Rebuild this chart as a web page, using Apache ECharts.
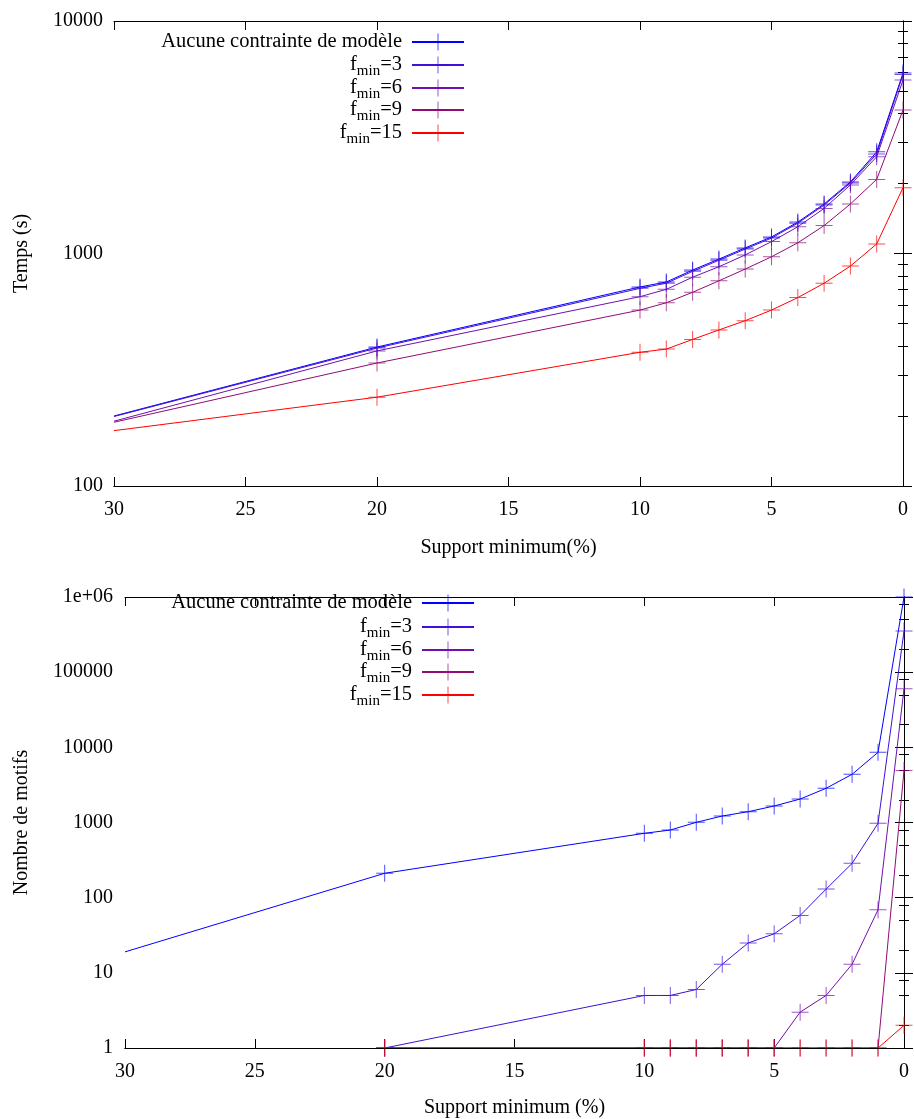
<!DOCTYPE html>
<html><head><meta charset="utf-8">
<script src="https://cdn.jsdelivr.net/npm/echarts@6/dist/echarts.min.js"></script>
<style>html,body{margin:0;padding:0;background:#fff}#c{width:914px;height:1119px}</style>
</head><body><div id="c"></div>
<script>
// ---------- data ----------
const seriesNames = ['Aucune contrainte de modèle', 'f_min=3', 'f_min=6', 'f_min=9', 'f_min=15'];
const seriesColors = ['#0000ff', '#4010d8', '#7010b0', '#900c78', '#ff0000'];
const xSupport = [30, 20, 10, 9, 8, 7, 6, 5, 4, 3, 2, 1, 0];

// Top chart: Temps (s)
const timeAucune = [200, 396, 718, 754, 849, 946, 1057, 1178, 1365, 1633, 2032, 2736, 5970];
const timeF3     = [199, 392, 708, 745, 838, 935, 1045, 1165, 1350, 1615, 2010, 2680, 5880];
const timeF6     = [190, 381, 652, 701, 791, 877, 986, 1125, 1303, 1563, 1972, 2607, 5570];
const timeF9     = [188, 338, 571, 614, 681, 763, 857, 968, 1112, 1318, 1633, 2083, 4140];
const timeF15    = [173, 241, 376, 388, 427, 469, 514, 571, 646, 745, 883, 1099, 1919];

// Bottom chart: Nombre de motifs (null = not plotted)
const motifsAucune = [19, 211, 718, 794, 1005, 1220, 1392, 1657, 2052, 2850, 4375, 8580, 1000000];
const motifsF3     = [null, 1, 5, 5, 6, 13, 25, 33, 58, 130, 286, 975, 352000];
const motifsF6     = [null, 1, 1, 1, 1, 1, 1, 1, 3, 5, 13, 69, 60000];
const motifsF9     = [null, 1, 1, 1, 1, 1, 1, 1, 1, 1, 1, 1, 4900];
const motifsF15    = [null, 1, 1, 1, 1, 1, 1, 1, 1, 1, 1, 1, 2];

// Ticks
const xTickValues = [0, 5, 10, 15, 20, 25, 30];
const xTickLabels = ['0', '5', '10', '15', '20', '25', '30'];
const timeMajor = [100, 1000, 10000];
const timeTickLabels = ['100', '1000', '10000'];
const timeMinor = [200, 300, 400, 500, 600, 700, 800, 900, 2000, 3000, 4000, 5000, 6000, 7000, 8000, 9000];
const motifMajor = [1, 10, 100, 1000, 10000, 100000, 1000000];
const motifTickLabels = ['1', '10', '100', '1000', '10000', '100000', '1e+06'];
const motifMinor = [2, 5, 8, 20, 50, 80, 200, 500, 800, 2000, 5000, 8000, 20000, 50000, 80000, 200000, 500000, 800000];

// ---------- styling ----------
const FONT = 'Liberation Serif';
const PLUS = 'path://M8,0 H9 V8 H17 V9 H9 V17 H8 V9 H0 V8 H8 Z';

function labelFor(values, labels) {
  return function (v) {
    for (let i = 0; i < values.length; i++) {
      if (Math.abs(values[i] - v) <= Math.abs(values[i]) * 1e-6) return labels[i];
    }
    return '';
  };
}

function xAxes(gridIndex, name, nameGap) {
  const base = {
    type: 'value', gridIndex: gridIndex, min: 0, max: 30, interval: 5, inverse: true,
    splitLine: { show: false },
    axisLine: { show: true, onZero: false, lineStyle: { color: '#000', width: 1 } },
    axisTick: { show: true, inside: true, length: 9, lineStyle: { color: '#000' } }
  };
  return [
    Object.assign({}, base, {
      position: 'bottom', z: 0, name: name, nameLocation: 'middle', nameGap: nameGap,
      nameTextStyle: { fontFamily: FONT, fontSize: 20, color: '#000' },
      axisLabel: { show: true, margin: 14, fontFamily: FONT, fontSize: 20, color: '#000',
        formatter: labelFor(xTickValues, xTickLabels) }
    }),
    Object.assign({}, base, { position: 'top', axisLabel: { show: false } }),
    // border line drawn in front of the series (like the gnuplot frame)
    Object.assign({}, base, { position: 'bottom', z: 10, axisTick: { show: false }, axisLabel: { show: false } })
  ];
}

function yAxes(gridIndex, min, max, majors, minors, labels, name, nameGap, margin) {
  const base = { type: 'log', logBase: 10, gridIndex: gridIndex, min: min, max: max, splitLine: { show: false } };
  const major = { show: true, inside: true, length: 9, customValues: majors, lineStyle: { color: '#000' } };
  const minor = { show: true, inside: true, length: 5, customValues: minors, lineStyle: { color: '#000' } };
  const line = { show: true, lineStyle: { color: '#000', width: 1 } };
  return [
    Object.assign({}, base, {
      position: 'left', name: name, nameLocation: 'middle', nameGap: nameGap,
      nameTextStyle: { fontFamily: FONT, fontSize: 20, color: '#000' },
      axisLine: line, axisTick: major,
      axisLabel: { show: true, customValues: majors, margin: margin, fontFamily: FONT, fontSize: 20, color: '#000',
        formatter: labelFor(majors, labels) }
    }),
    Object.assign({}, base, { position: 'left', axisLine: { show: false }, axisTick: minor, axisLabel: { show: false } }),
    Object.assign({}, base, { position: 'right', axisLine: line, axisTick: major, axisLabel: { show: false } }),
    Object.assign({}, base, { position: 'right', axisLine: { show: false }, axisTick: minor, axisLabel: { show: false } })
  ];
}

function makeSeries(valuesList, xAxisIndex, yAxisIndex) {
  return valuesList.map(function (vals, si) {
    const data = [];
    xSupport.forEach(function (x, i) {
      if (vals[i] === null) return;
      const item = { value: [x, vals[i]] };
      if (x === 30) item.symbolSize = 0; // point lies on the clipped edge: no marker
      data.push(item);
    });
    return {
      type: 'line', name: seriesNames[si], xAxisIndex: xAxisIndex, yAxisIndex: yAxisIndex,
      data: data, symbol: PLUS, symbolSize: 17, showSymbol: true, clip: false,
      color: seriesColors[si],
      itemStyle: { color: seriesColors[si], opacity: 0.7 },
      lineStyle: { color: seriesColors[si], width: 1 },
      emphasis: { disabled: true }, animation: false
    };
  });
}

function legendFormatter(name) {
  const m = name.match(/^f_min(.*)$/);
  if (m) return '{t|f}{s|min}{t|' + m[1] + '}';
  return '{t|' + name + '}';
}
const legendRich = {
  t: { fontFamily: FONT, fontSize: 20.5, color: '#000', lineHeight: 28 },
  s: { fontFamily: FONT, fontSize: 15, color: '#000', lineHeight: 15, verticalAlign: 'bottom' }
};
function makeLegends(centers, rightPx) {
  return seriesNames.map(function (n, i) {
    return {
      data: [n], orient: 'horizontal', align: 'right', right: rightPx, top: centers[i] - 10.5,
      padding: 0, itemWidth: 52, itemHeight: 21, itemGap: 0, selectedMode: false,
      formatter: legendFormatter,
      textStyle: { rich: legendRich, padding: [0, 5, 0, 0] }
    };
  });
}

const option = {
  animation: false,
  backgroundColor: '#fff',
  grid: [
    { left: 114, top: 21, width: 789, height: 465 },
    { left: 125, top: 597, width: 779, height: 451 }
  ],
  xAxis: [].concat(xAxes(0, 'Support minimum(%)', 52), xAxes(1, 'Support minimum (%)', 50)),
  yAxis: [].concat(
    yAxes(0, 100, 10000, timeMajor, timeMinor, timeTickLabels, 'Temps (s)', 82, 11),
    yAxes(1, 1, 1000000, motifMajor, motifMinor, motifTickLabels, 'Nombre de motifs', 93, 12)
  ),
  legend: [].concat(makeLegends([42, 65, 88, 110, 133], 449), makeLegends([603, 627, 650, 672, 695], 439)),
  series: [].concat(
    makeSeries([timeAucune, timeF3, timeF6, timeF9, timeF15], 0, 0),
    makeSeries([motifsAucune, motifsF3, motifsF6, motifsF9, motifsF15], 3, 4)
  )
};

const chart = echarts.init(document.getElementById('c'), null, { renderer: 'canvas' });
chart.setOption(option);
</script>
</body></html>
